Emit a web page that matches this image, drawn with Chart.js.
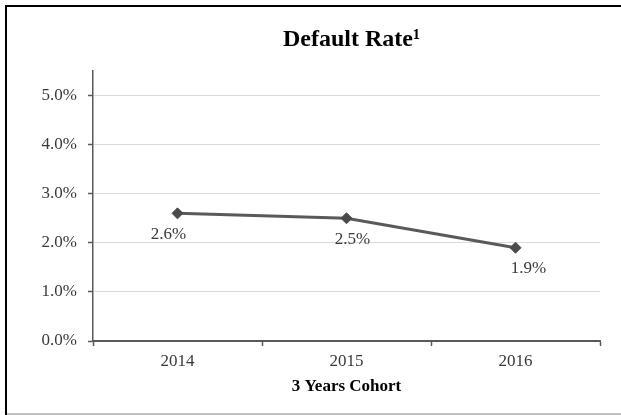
<!DOCTYPE html>
<html>
<head>
<meta charset="utf-8">
<script src="https://cdn.jsdelivr.net/npm/chart.js@4/dist/chart.umd.min.js"></script>
<style>
  html, body { margin: 0; padding: 0; background: #fff; }
  #wrap { width: 621px; height: 415px; position: relative; }
</style>
</head>
<body>
<div id="wrap"><canvas id="c" width="621" height="415"></canvas></div>
<script>
const categories = ['2014', '2015', '2016'];
const defaultRate = [2.6, 2.5, 1.9];
const yTickValues = [0, 1, 2, 3, 4, 5];
const chartTitle = 'Default Rate\u00B9';
const xAxisTitle = '3 Years Cohort';

const FONT = '"Liberation Serif", "Times New Roman", serif';

const framePlugin = {
  id: 'frame',
  afterDraw(chart) {
    const ctx = chart.ctx;
    ctx.save();
    // outer frame
    ctx.fillStyle = '#000';
    ctx.fillRect(5, 5, 616, 2);
    ctx.fillRect(5, 5, 2, 410);
    ctx.fillStyle = '#c0c0c0';
    ctx.fillRect(7, 413, 614, 2);
    // title
    ctx.fillStyle = '#000';
    ctx.font = 'bold 24px ' + FONT;
    ctx.textAlign = 'center';
    ctx.textBaseline = 'alphabetic';
    const ca = chart.chartArea;
    ctx.fillText(chartTitle, (ca.left + ca.right) / 2 + 5, 46);
    ctx.restore();
  }
};

const labelPlugin = {
  id: 'pointLabels',
  afterDatasetsDraw(chart, args, opts) {
    const ctx = chart.ctx;
    const meta = chart.getDatasetMeta(0);
    ctx.save();
    ctx.font = '17px ' + FONT;
    ctx.fillStyle = '#3a3a3a';
    ctx.textAlign = 'center';
    ctx.textBaseline = 'middle';
    meta.data.forEach((pt, i) => {
      const dx = opts.dx[i] || 0;
      ctx.fillText(defaultRate[i].toFixed(1) + '%', pt.x + dx, pt.y + opts.dy);
    });
    ctx.restore();
  }
};

new Chart(document.getElementById('c'), {
  type: 'line',
  data: {
    labels: categories,
    datasets: [{
      data: defaultRate,
      borderColor: '#5a5a5a',
      borderWidth: 3,
      pointStyle: 'rectRot',
      pointRadius: 5.5,
      pointBackgroundColor: '#4a4a4a',
      pointBorderColor: '#4a4a4a',
      pointBorderWidth: 1,
      tension: 0,
      fill: false
    }]
  },
  options: {
    responsive: false,
    animation: false,
    devicePixelRatio: 1,
    layout: { padding: { left: 0, right: 21, top: 71, bottom: 0 } },
    plugins: {
      legend: { display: false },
      title: { display: false },
      tooltip: { enabled: false },
      pointLabels: { dx: [-9, 6, 13], dy: 21 }
    },
    scales: {
      x: {
        offset: true,
        afterFit(s) { s.height = 74; },
        grid: {
          offset: true,
          drawOnChartArea: false,
          drawTicks: true,
          tickLength: 5,
          tickColor: '#595959',
          tickWidth: 1.5
        },
        border: { display: true, color: '#595959', width: 2 },
        ticks: {
          color: '#3a3a3a',
          font: { family: FONT, size: 17 },
          padding: 5,
          maxRotation: 0
        },
        title: {
          display: true,
          text: xAxisTitle,
          color: '#000',
          font: { family: FONT, size: 17, weight: 'bold' },
          padding: { top: 0, bottom: 18 }
        }
      },
      y: {
        min: 0,
        max: 5.5,
        afterFit(s) { s.width = 93; },
        afterBuildTicks(s) {
          s.ticks = yTickValues.map(v => ({ value: v }));
        },
        grid: {
          color: '#d9d9d9',
          lineWidth: 1,
          drawTicks: true,
          tickLength: 5,
          tickColor: '#595959',
          tickWidth: 1.5
        },
        border: { display: true, color: '#595959', width: 1.5 },
        ticks: {
          color: '#3a3a3a',
          font: { family: FONT, size: 17 },
          padding: 11,
          callback: v => Number(v).toFixed(1) + '%'
        }
      }
    }
  },
  plugins: [framePlugin, labelPlugin]
});
</script>
</body>
</html>
